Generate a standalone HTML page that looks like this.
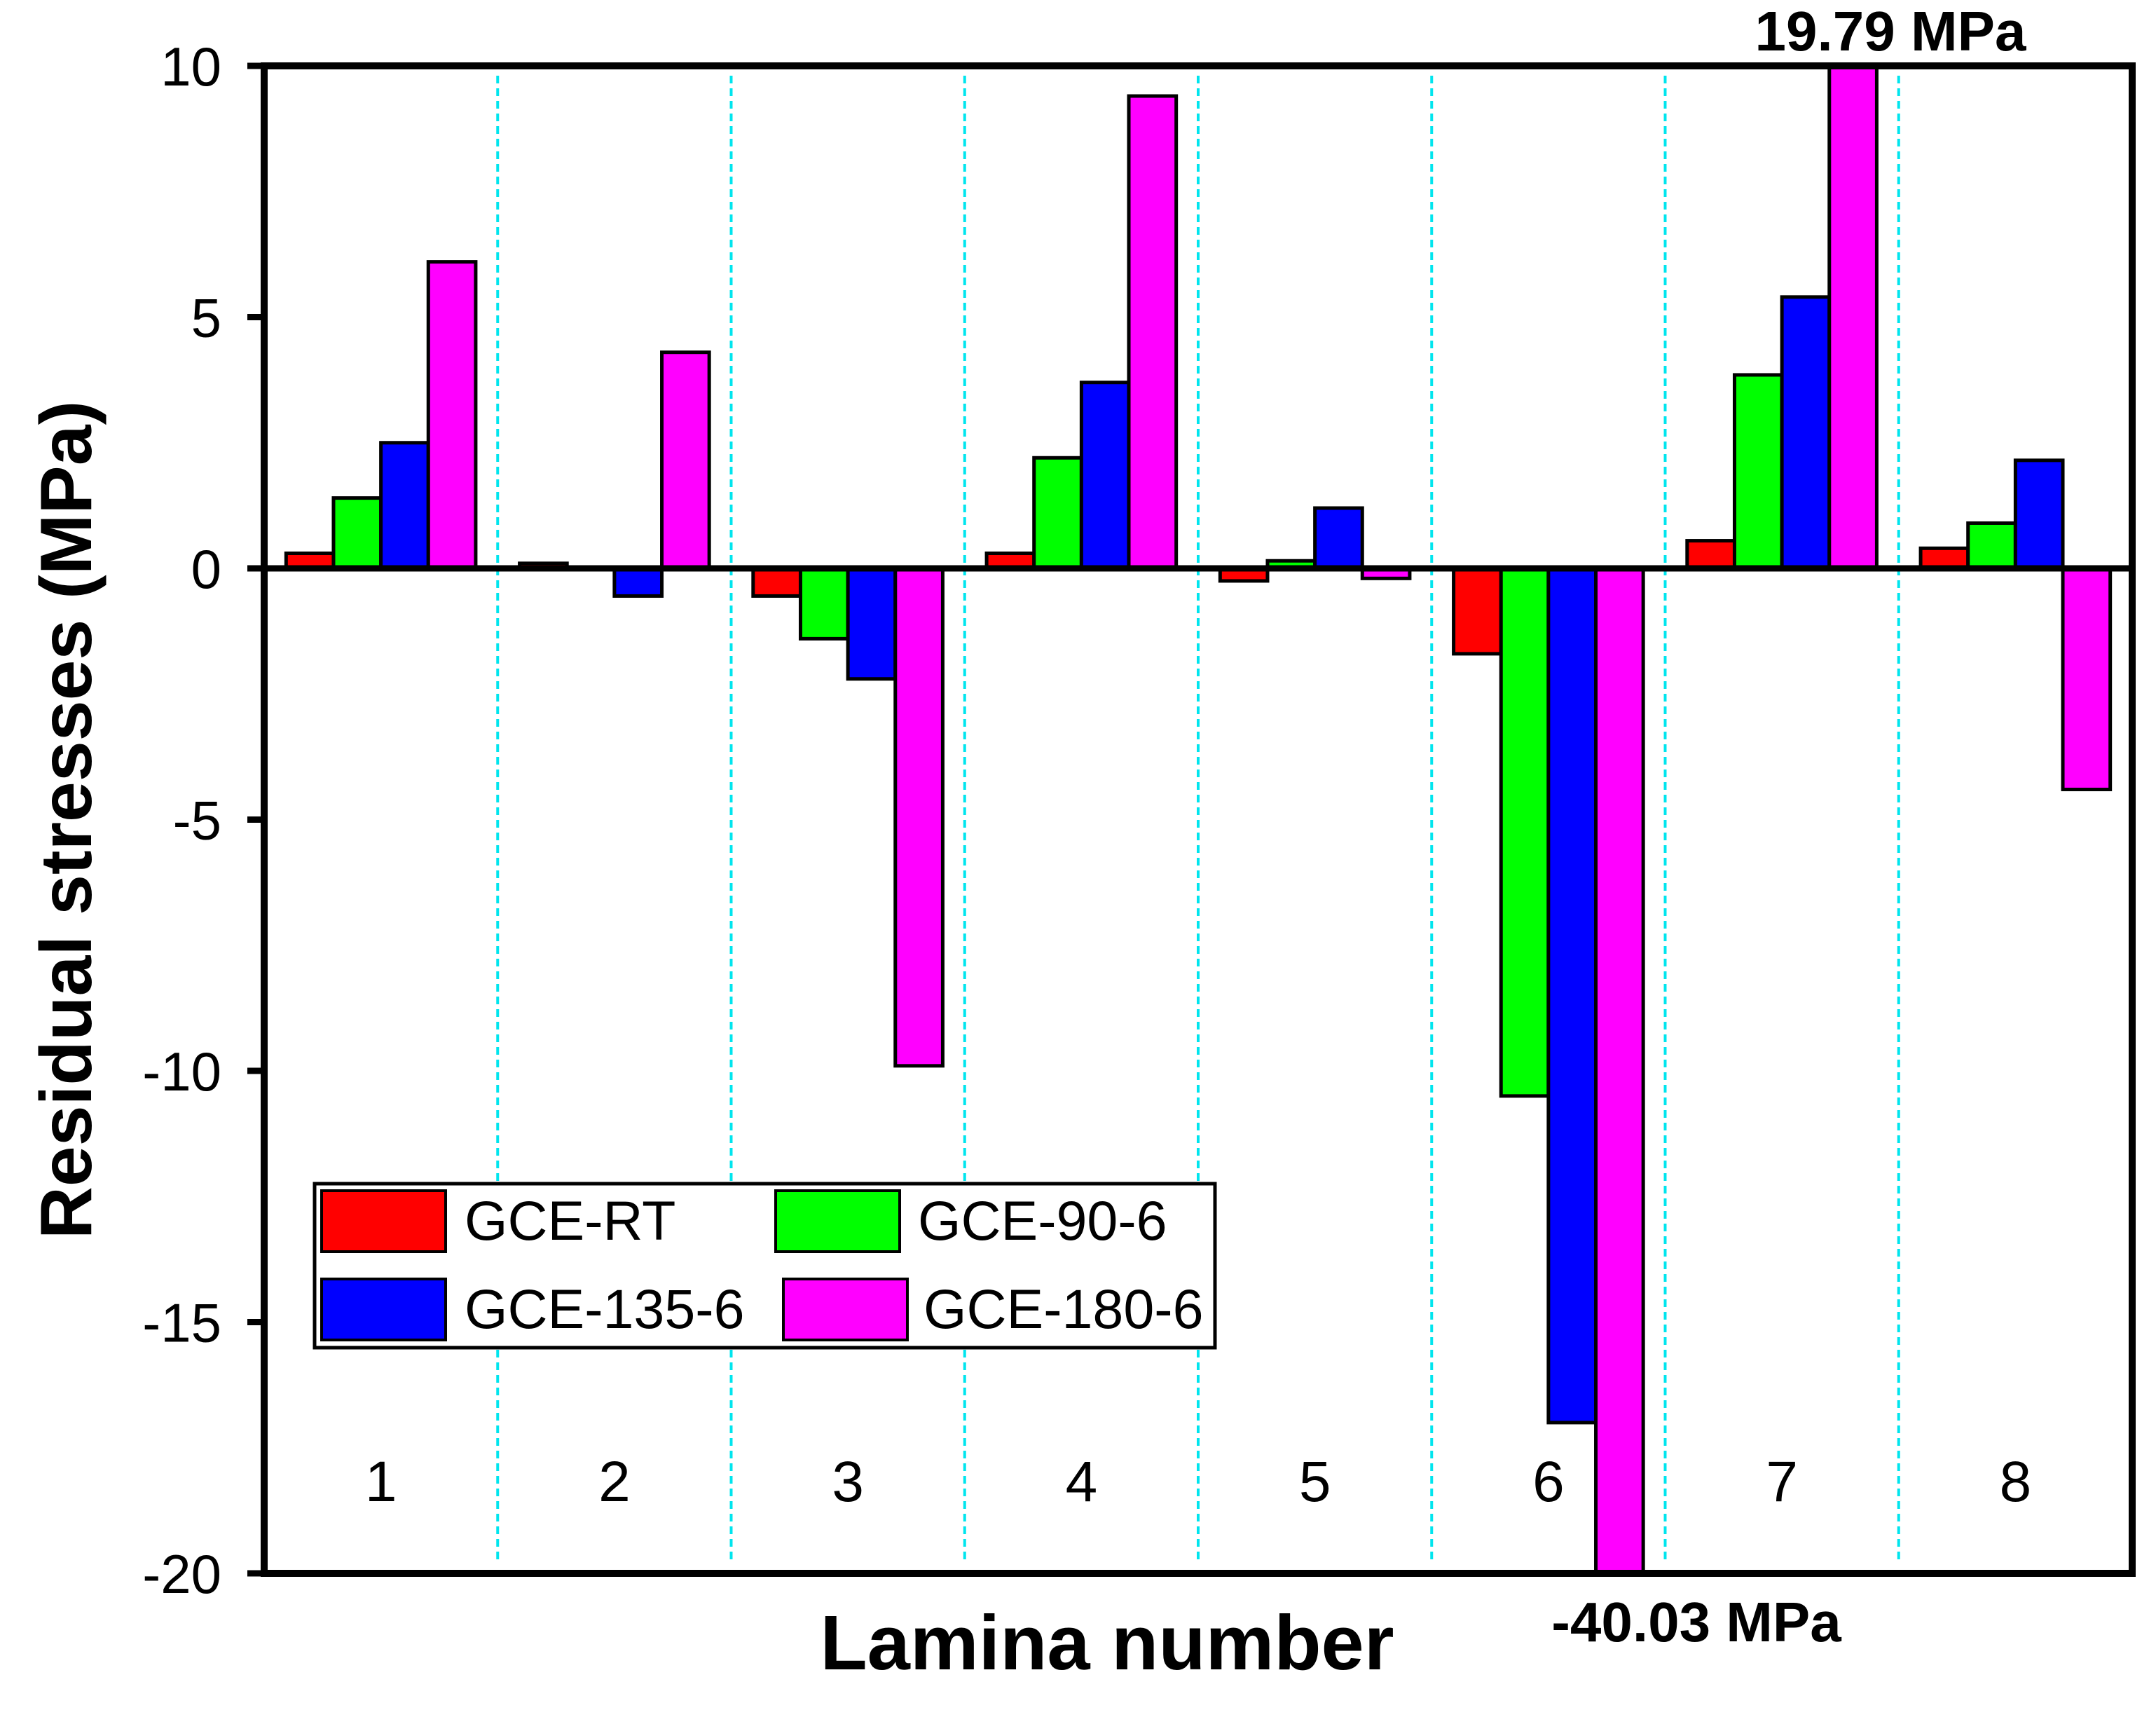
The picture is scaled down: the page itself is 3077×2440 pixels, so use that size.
<!DOCTYPE html>
<html><head><meta charset="utf-8"><style>
html,body{margin:0;padding:0;background:#fff;}
svg{display:block;font-family:"Liberation Sans",Arial,sans-serif;}
</style></head><body>
<svg id="chart" width="3077" height="2440" viewBox="0 0 3077 2440" xmlns="http://www.w3.org/2000/svg">
<rect width="3077" height="2440" fill="#fff"/>
<g id="grid"></g>
<g id="bars"></g>
<g id="axes"></g>
<text transform="translate(130,1170) rotate(-90)" text-anchor="middle" font-size="104" font-weight="bold">Residual stresses (MPa)</text>
<text x="1580" y="2382" text-anchor="middle" font-size="110" font-weight="bold">Lamina number</text>
<text x="2698" y="72" text-anchor="middle" font-size="80" font-weight="bold">19.79 MPa</text>
<text x="2421" y="2342" text-anchor="middle" font-size="80" font-weight="bold">-40.03 MPa</text>
<g>
<rect x="449" y="1689" width="1285" height="234" fill="#fff" stroke="#000" stroke-width="5"/>
<rect x="459" y="1699" width="177" height="87" fill="#ff0000" stroke="#000" stroke-width="4"/>
<text x="663" y="1769" font-size="79">GCE-RT</text>
<rect x="1107" y="1699" width="177" height="87" fill="#00ff00" stroke="#000" stroke-width="4"/>
<text x="1310" y="1769" font-size="79">GCE-90-6</text>
<rect x="459" y="1825" width="177" height="87" fill="#0000ff" stroke="#000" stroke-width="4"/>
<text x="663" y="1895" font-size="79">GCE-135-6</text>
<rect x="1118" y="1825" width="177" height="87" fill="#ff00ff" stroke="#000" stroke-width="4"/>
<text x="1318" y="1895" font-size="79">GCE-180-6</text>
</g>
</svg>
<script>
const categories = ["1","2","3","4","5","6","7","8"];
const gceRT = [0.3, 0.1, -0.55, 0.3, -0.25, -1.7, 0.55, 0.4];
const gce90 = [1.4, 0.02, -1.4, 2.2, 0.15, -10.5, 3.85, 0.9];
const gce135 = [2.5, -0.55, -2.2, 3.7, 1.2, -17, 5.4, 2.15];
const gce180 = [6.1, 4.3, -9.9, 9.4, -0.2, -40.03, 19.79, -4.4];
const yTicks = [10, 5, 0, -5, -10, -15, -20];
const seriesNames = ["gce-rt","gce-90-6","gce-135-6","gce-180-6"];
const seriesColors = ["#ff0000","#00ff00","#0000ff","#ff00ff"];

const L=377, R=3043, T=94, B=2245, yMin=-20, yMax=10;
const NS="http://www.w3.org/2000/svg";
const y = v => T + (yMax - Math.max(yMin, Math.min(yMax, v))) / (yMax - yMin) * (B - T);
const gw = (R - L) / categories.length;
const x = i => L + i * gw;
function mk(tag, attrs, parent){const e=document.createElementNS(NS,tag);for(const k in attrs)e.setAttribute(k,attrs[k]);parent.appendChild(e);return e;}
const grid=document.getElementById('grid'), bars=document.getElementById('bars'), axes=document.getElementById('axes');

for(let i=1;i<categories.length;i++){
  const ln=mk('line',{x1:x(i),x2:x(i),y1:T+14,y2:B-18,stroke:'#00e5ee','stroke-width':4,'stroke-dasharray':'11 7'},grid);
  
  
}
const all=[gceRT,gce90,gce135,gce180];
const bw=gw*0.203, off=(gw-4*bw)/2;
categories.forEach((c,i)=>{
  all.forEach((s,j)=>{
    const v=s[i], y0=y(0), yv=y(v);
    const r=mk('rect',{x:x(i)+off+j*bw,y:Math.min(y0,yv),width:bw,height:Math.max(Math.abs(yv-y0),1),fill:seriesColors[j],stroke:'#000','stroke-width':5},bars);
    
    
  });
  const t=mk('text',{x:x(i)+gw/2,y:2142,'text-anchor':'middle','font-size':82},axes);
  t.textContent=c;
  
  
});
const z=mk('line',{x1:L-24,x2:R,y1:y(0),y2:y(0),stroke:'#000','stroke-width':9},axes);


yTicks.forEach(v=>{
  const tk=mk('line',{x1:L-24,x2:L,y1:y(v),y2:y(v),stroke:'#000','stroke-width':9},axes);
  
  
  const t=mk('text',{x:316,y:y(v)+28,'text-anchor':'end','font-size':78},axes);
  t.textContent=v;
  
  
});
const frame=mk('rect',{x:L,y:T,width:R-L,height:B-T,fill:'none',stroke:'#000','stroke-width':10},axes);


</script>
</body></html>
